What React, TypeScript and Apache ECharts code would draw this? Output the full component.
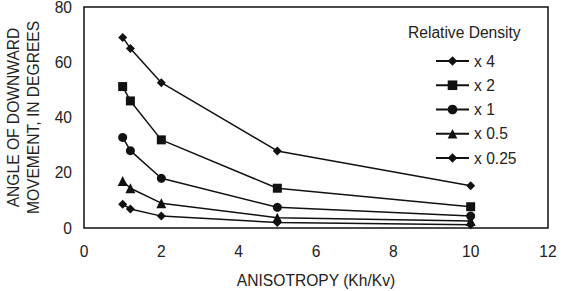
import React, { useEffect, useRef } from "react";
import * as echarts from "echarts";

const anisotropy = [1, 1.2, 2, 5, 10];
const seriesNames = ["x 4", "x 2", "x 1", "x 0.5", "x 0.25"];
const x4 = [69, 65, 52.6, 27.9, 15.3];
const x2 = [51.2, 46, 31.9, 14.4, 7.7];
const x1 = [32.8, 28, 18, 7.5, 4.3];
const x05 = [17, 14.4, 9, 3.7, 2.5];
const x025 = [8.6, 6.9, 4.3, 2, 1.2];
const symbols = ["diamond", "rect", "circle", "triangle", "diamond"];
const symbolSizes = [9, 9, 9, 10, 9];
const allValues = [x4, x2, x1, x05, x025];
const xTicks = [0, 2, 4, 6, 8, 10, 12];
const yTicks = [0, 20, 40, 60, 80];

export default function App() {
  const ref = useRef<HTMLDivElement>(null);
  useEffect(() => {
    if (!ref.current) return;
    const chart = echarts.init(ref.current, undefined, { renderer: "svg" });
    const font = "'Liberation Sans', Arial, sans-serif";
    const fs = 15.6;
    chart.setOption({
      animation: false,
      backgroundColor: "#fff",
      grid: {
        left: 84,
        right: 18,
        top: 7,
        bottom: 63,
        show: true,
        borderColor: "#111",
        borderWidth: 1.5,
        containLabel: false,
        outerBoundsMode: "none",
      },
      xAxis: {
        type: "value",
        min: xTicks[0],
        max: xTicks[xTicks.length - 1],
        interval: 2,
        name: "ANISOTROPY (Kh/Kv)",
        nameLocation: "middle",
        nameGap: 44,
        nameTextStyle: { fontFamily: font, fontSize: fs, color: "#222" },
        axisLine: { show: false },
        axisTick: { show: false },
        splitLine: { show: false },
        axisLabel: { fontFamily: font, fontSize: fs, color: "#222", margin: 15 },
      },
      yAxis: {
        type: "value",
        min: yTicks[0],
        max: yTicks[yTicks.length - 1],
        interval: 20,
        name: "ANGLE OF DOWNWARD\nMOVEMENT, IN DEGREES",
        nameLocation: "middle",
        nameGap: 37,
        nameRotate: 90,
        nameTextStyle: { fontFamily: font, fontSize: fs, color: "#222", lineHeight: 20.5 },
        axisLine: { show: false },
        axisTick: { show: false },
        splitLine: { show: false },
        axisLabel: { fontFamily: font, fontSize: fs, color: "#222", margin: 12 },
      },
      title: {
        text: "Relative Density",
        left: 403,
        top: 19,
        textStyle: { fontFamily: font, fontSize: fs, fontWeight: "normal", color: "#222" },
      },
      legend: {
        orient: "vertical",
        left: 430,
        top: 48,
        itemWidth: 33,
        itemHeight: 12,
        itemGap: 8.25,
        textStyle: { fontFamily: font, fontSize: fs, color: "#222" },
        data: seriesNames,
      },
      series: allValues.map((vals, i) => ({
        name: seriesNames[i],
        type: "line",
        data: anisotropy.map((x, j) => [x, vals[j]]),
        symbol: symbols[i],
        symbolSize: symbolSizes[i],
        lineStyle: { color: "#111", width: 1.5 },
        itemStyle: { color: "#111" },
        color: "#111",
      })),
    });
    return () => chart.dispose();
  }, []);
  return (
    <div
      ref={ref}
      style={{ position: "absolute", left: 0, top: 0, width: 566, height: 291 }}
    />
  );
}
